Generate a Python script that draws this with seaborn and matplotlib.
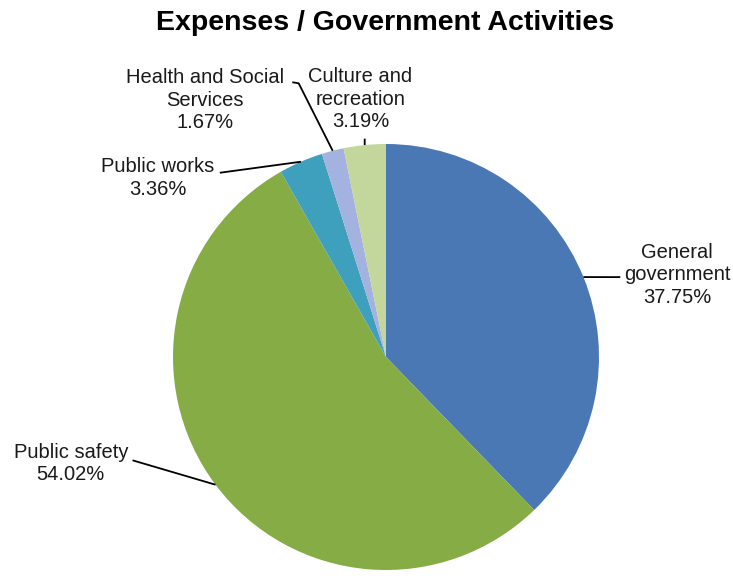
import numpy as np
import matplotlib
matplotlib.use("Agg")
import matplotlib.pyplot as plt
import seaborn as sns

sns.set_theme(style="white")
plt.rcParams['font.family'] = ['Liberation Sans', 'DejaVu Sans']

categories = ["General\ngovernment", "Public safety", "Public works",
              "Health and Social\nServices", "Culture and\nrecreation"]
values = [37.75, 54.02, 3.36, 1.67, 3.19]
colors = ["#4A78B5", "#86AC45", "#3EA0BC", "#A4B2E0", "#C3D69B"]
title = "Expenses / Government Activities"

# label layout (text centre, leader start) in axes data units
text_pos = [(1.366, 0.385), (-1.48, -0.50), (-1.07, 0.84), (-0.85, 1.205), (-0.12, 1.21)]
leader_start = [(1.10, 0.375), (-1.19, -0.485), (-0.78, 0.865), (-0.44, 1.29), (-0.10, 1.025)]
leader_kink = [None, None, None, (-0.41, 1.285), None]

fig = plt.figure(figsize=(7.33, 5.78), dpi=100)
fig.patch.set_facecolor("white")
ax = fig.add_axes([(386 - 213) / 733, (578 - 570) / 578, 426 / 733, 426 / 578])
wedges, _ = ax.pie(values, colors=colors, startangle=90, counterclock=False,
                   radius=1.0, wedgeprops=dict(linewidth=0))
ax.set_xlim(-1, 1)
ax.set_ylim(-1, 1)
ax.set_aspect("equal")
ax.axis("off")

total = sum(values)
cum = 0.0
for i, v in enumerate(values):
    mid = cum + v / 2
    cum += v
    ang = np.deg2rad(90 - 360 * mid / total)
    ex, ey = np.cos(ang), np.sin(ang)
    pts = [leader_start[i]]
    if leader_kink[i] is not None:
        pts.append(leader_kink[i])
    pts.append((ex, ey))
    xs, ys = zip(*pts)
    ax.plot(xs, ys, color="black", lw=1.3, clip_on=False, solid_capstyle="butt")
    pct = f"{v:.2f}%"
    ax.text(text_pos[i][0], text_pos[i][1], f"{categories[i]}\n{pct}",
            ha="center", va="center", fontsize=14.5, linespacing=1.24,
            color="#1a1a1a", clip_on=False)

fig.text(385 / 733, 1 - 23 / 578, title, ha="center", va="center",
         fontsize=20.5, fontweight="bold", color="black")

fig.savefig("out.png", dpi=100, facecolor="white")
